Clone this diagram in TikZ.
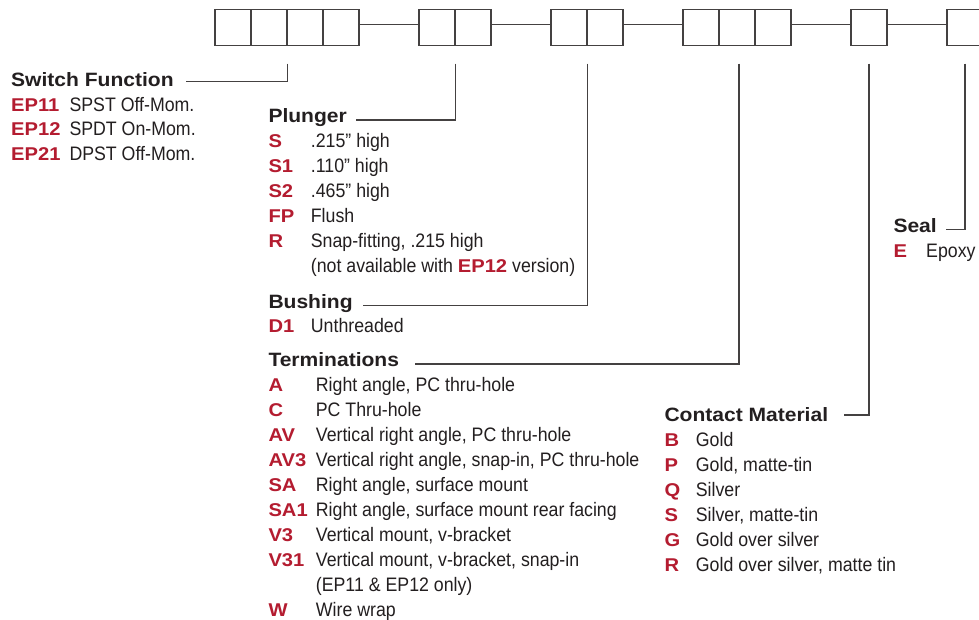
\documentclass[tikz,border=0pt]{standalone}
\usepackage{fontspec}
\setmainfont{Liberation Sans}
\newfontfamily\hdfont{Liberation Sans}[FakeStretch=1.09]
\newfontfamily\bdfont{Liberation Sans}[FakeStretch=0.91]
\definecolor{codered}{RGB}{180,28,48}
\definecolor{ink}{RGB}{35,31,32}
\newcommand{\cdred}[1]{{\fontsize{18.5}{20}\hdfont\bfseries\color{codered}#1}}
\begin{document}
\begin{tikzpicture}[x=1pt,y=-1pt,
 cell/.style={draw=ink!85,line width=1.4pt,minimum width=36pt,minimum height=36pt,inner sep=0pt},
 lead/.style={draw=ink!85,line width=1.2pt},
 head/.style={anchor=base west,inner sep=0pt,font=\fontsize{19.3}{20}\hdfont\bfseries,text=ink},
 code/.style={anchor=base west,inner sep=0pt,font=\fontsize{18.5}{20}\hdfont\bfseries,text=codered},
 desc/.style={anchor=base west,inner sep=0pt,font=\fontsize{19.5}{20}\bdfont,text=ink}]
\fill[white] (0,0) rectangle (979,619);
\useasboundingbox (0,0) rectangle (979,619);
\clip (0,0) rectangle (979,619);
% boxes
\foreach \n/\x in {b1/233,b2/269,b3/305,b4/341,b5/437,b6/473,b7/569,b8/605,b9/701,b10/737,b11/773,b12/869,b13/965}
  \node[cell] (\n) at (\x,27.5) {};
\draw[lead,line width=1.4pt] ([yshift=2.8pt]b4.east) -- ([yshift=2.8pt]b5.west);
\draw[lead,line width=1.4pt] ([yshift=2.8pt]b6.east) -- ([yshift=2.8pt]b7.west);
\draw[lead,line width=1.4pt] ([yshift=2.8pt]b8.east) -- ([yshift=2.8pt]b9.west);
\draw[lead,line width=1.4pt] ([yshift=2.8pt]b11.east) -- ([yshift=2.8pt]b12.west);
\draw[lead,line width=1.4pt] ([yshift=2.8pt]b12.east) -- ([yshift=2.8pt]b13.west);
% Switch Function
\node[head] (swf) at (11,86) {Switch Function};
\node[code] (c11) at (11,111) {EP11};
\node[desc] (d11) at (69.3,111) {SPST Off-Mom.};
\node[code] (c12) at (11,135.5) {EP12};
\node[desc] (d12) at (69.3,135.5) {SPDT On-Mom.};
\node[code] (c21) at (11,160) {EP21};
\node[desc] (d21) at (69.3,160) {DPST Off-Mom.};
% Plunger
\node[head] (plg) at (268.3,122.7) {Plunger};
\foreach \c/\d/\y [count=\i] in {S/{.215” high}/147.7,S1/{.110” high}/172.7,S2/{.465” high}/197.7,FP/Flush/222.7,R/{Snap-fitting, .215 high}/247.7}{
  \node[code] (pc\i) at (268.3,\y) {\c};
  \node[desc] (pd\i) at (310.7,\y) {\d};
}
\node[desc] (pd6) at (310.7,272.7) {(not available with \cdred{EP12} version)};
% Bushing
\node[head] (bsh) at (268.3,308) {Bushing};
\node[code] (bc1) at (268.3,332) {D1};
\node[desc] (bd1) at (310.7,332) {Unthreaded};
% Terminations
\node[head] (trm) at (268.3,366.7) {Terminations};
\foreach \c/\d/\y [count=\i] in {A/{Right angle, PC thru-hole}/391.7,C/{PC Thru-hole}/416.7,AV/{Vertical right angle, PC thru-hole}/441.7,AV3/{Vertical right angle, snap-in, PC thru-hole}/466.7,SA/{Right angle, surface mount}/491.7,SA1/{Right angle, surface mount rear facing}/516.7,V3/{Vertical mount, v-bracket}/541.7,V31/{Vertical mount, v-bracket, snap-in}/566.7,W/{Wire wrap}/616.7}{
  \node[code] (tc\i) at (268.3,\y) {\c};
  \node[desc] (td\i) at (315.7,\y) {\d};
}
\node[desc] (td10) at (315.7,591.7) {(EP11 \& EP12 only)};
% Contact Material
\node[head] (cmt) at (664.3,421.7) {Contact Material};
\foreach \c/\d/\y [count=\i] in {B/Gold/446.7,P/{Gold, matte-tin}/471.7,Q/Silver/496.7,S/{Silver, matte-tin}/521.7,G/{Gold over silver}/546.7,R/{Gold over silver, matte tin}/571.7}{
  \node[code] (mc\i) at (664.3,\y) {\c};
  \node[desc] (md\i) at (695.7,\y) {\d};
}
% Seal
\node[head] (seal) at (893.3,232.3) {Seal};
\node[code] (sc1) at (893.3,257.3) {E};
\node[desc] (sd1) at (926,257.3) {Epoxy};
% leader ends
\coordinate (swfL) at (186,81.7);
\coordinate (plgL) at (356,120);
\coordinate (bshL) at (362.7,305.7);
\coordinate (trmL) at (415,364);
\coordinate (cmtL) at (844,415);
\coordinate (sealL) at (946,229.3);
\draw[lead] ([yshift=-17.5pt]b2.south east) |- (swfL);
\draw[lead] ([yshift=-17.5pt]b5.south east) |- (plgL);
\draw[lead] ([yshift=-17.5pt]b7.south east) |- (bshL);
\draw[lead] ([yshift=-17.5pt,xshift=2pt]b10.south) |- (trmL);
\draw[lead] ([yshift=-17.5pt]b12.south) |- (cmtL);
\draw[lead] ([yshift=-17.5pt]b13.south) |- (sealL);
\end{tikzpicture}
\end{document}
